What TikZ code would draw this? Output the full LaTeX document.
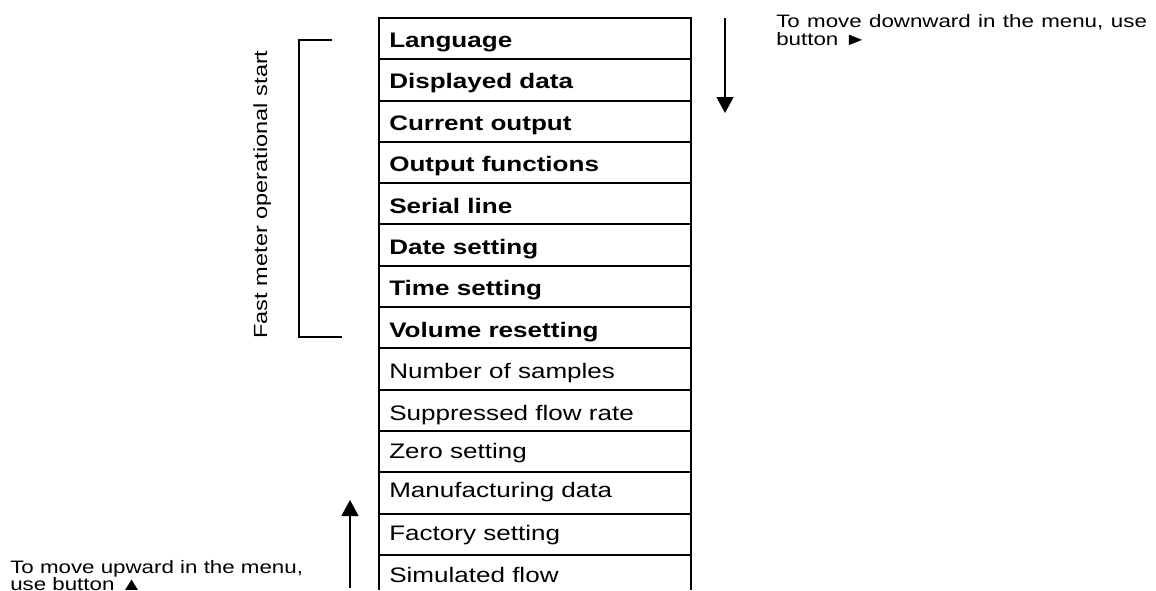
\documentclass[tikz,border=0pt]{standalone}
\usepackage{fontspec}
\setmainfont{Liberation Sans}
\usepackage{graphicx}
\usetikzlibrary{arrows.meta}
\newcommand{\wide}[1]{\scalebox{1.24}[1]{#1}}
\begin{document}
\begin{tikzpicture}[x=0.75pt,y=-0.75pt,
  menu/.style={anchor=base west,inner sep=0pt,font=\fontsize{15.75}{18}\selectfont},
  side/.style={anchor=base west,inner sep=0pt,font=\fontsize{13.5}{16}\selectfont},
  grid/.style={line width=1.5pt,line join=miter},
  bracket/.style={line width=1.1pt},
  arr/.style={line width=1.1pt,-{Triangle[width=12.75pt,length=12pt]}}]
\useasboundingbox (0,0) rectangle (1156,590);
% menu table
\draw[grid] (379,590) -- (379,18) -- (691,18) -- (691,590);
\foreach \yy in {59,101,142,183,224,266,307,348,390,431,472,514,555}
  \draw[grid] (379,\yy) -- (691,\yy);
\node[menu] (r1) at (389,47) {\wide{\textbf{Language}}};
\node[menu] (r2) at (389,88) {\wide{\textbf{Displayed data}}};
\node[menu] (r3) at (389,130) {\wide{\textbf{Current output}}};
\node[menu] (r4) at (389,171) {\wide{\textbf{Output functions}}};
\node[menu] (r5) at (389,213) {\wide{\textbf{Serial line}}};
\node[menu] (r6) at (389,254) {\wide{\textbf{Date setting}}};
\node[menu] (r7) at (389,295) {\wide{\textbf{Time setting}}};
\node[menu] (r8) at (389,337) {\wide{\textbf{Volume resetting}}};
\node[menu] (r9) at (389,378) {\wide{Number of samples}};
\node[menu] (r10) at (389,420) {\wide{Suppressed flow rate}};
\node[menu] (r11) at (389,458) {\wide{Zero setting}};
\node[menu] (r12) at (389,497) {\wide{Manufacturing data}};
\node[menu] (r13) at (389,540) {\wide{Factory setting}};
\node[menu] (r14) at (389,582) {\wide{Simulated flow}};
% bracket
\coordinate (bt1) at (332,40);
\coordinate (bt2) at (299,40);
\coordinate (bb1) at (299,337);
\coordinate (bb2) at (342,337);
\draw[bracket] (bt1) -- (bt2) -- (bb1) -- (bb2);
\node[rotate=90,anchor=base,inner sep=0pt,font=\fontsize{14.25}{16}\selectfont] (fast) at (267,194.5) {\wide{Fast meter operational start}};
% down arrow
\coordinate (d1) at (725,18);
\coordinate (d2) at (725,113);
\draw[arr] (d1) -- (d2);
\node[side] (rt1) at (776,27) {\wide{\makebox[224.25pt][s]{To move downward in the menu, use}}};
\node[side] (rt2) at (776,45) {\wide{button ►}};
% up arrow
\coordinate (u1) at (350,588);
\coordinate (u2) at (350,500);
\draw[arr] (u1) -- (u2);
\node[side] (lt1) at (10,573) {\wide{To move upward in the menu,}};
\node[side] (lt2) at (10,590) {\wide{use button ▲}};
\end{tikzpicture}
\end{document}
